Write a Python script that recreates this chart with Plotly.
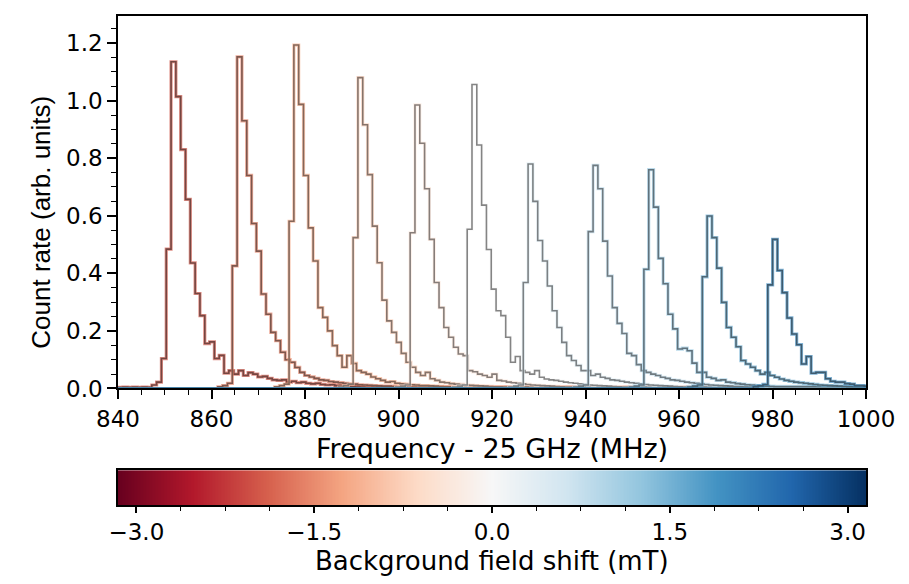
import numpy as np
import plotly.graph_objects as go
from plotly.colors import sample_colorscale, diverging

# ---------------- data ----------------
BIN_WIDTH = 1.03  # MHz
X_RANGE = [840, 1000]
Y_RANGE = [0, 1.294]
CB_RANGE = [-3.155, 3.155]

field_shift = [-2.0, -1.6, -1.2, -0.8, -0.4, 0.0, 0.4, 0.8, 1.2, 1.6, 2.0]  # mT
start_freq = [840.02, 861.36, 873.5, 887.2, 899.4, 911.6, 923.6, 937.5, 949.4, 961.9, 975.9]

counts_1 = [0.004, 0.005, 0.004, 0.005, 0.004, 0.005,
            0.004, 0.012, 0.022, 0.104, 0.484, 1.135, 1.014, 0.830, 0.657, 0.436, 0.330, 0.253,
            0.156, 0.162, 0.104, 0.115, 0.053, 0.062, 0.050, 0.062, 0.045, 0.055, 0.050, 0.040,
            0.042, 0.035, 0.030, 0.028, 0.030, 0.022, 0.025, 0.020, 0.022, 0.018, 0.016, 0.018,
            0.014, 0.012, 0.013, 0.010, 0.011, 0.009, 0.008, 0.008, 0.007, 0.006, 0.006, 0.005]
counts_2 = [0.006, 0.010, 0.018, 0.426, 1.152, 0.930, 0.740, 0.573, 0.477, 0.328, 0.258, 0.195,
            0.166, 0.126, 0.100, 0.091, 0.073, 0.056, 0.045, 0.040, 0.035, 0.030, 0.028, 0.024,
            0.022, 0.020, 0.018, 0.016, 0.015, 0.013, 0.012, 0.011, 0.010, 0.009, 0.008, 0.008,
            0.007, 0.006, 0.006, 0.005]
counts_3 = [0.006, 0.010, 0.015, 0.581, 1.193, 0.987, 0.740, 0.558, 0.443, 0.281, 0.247, 0.200,
            0.149, 0.114, 0.074, 0.114, 0.087, 0.062, 0.056, 0.050, 0.040, 0.034, 0.028, 0.022,
            0.024, 0.018, 0.016, 0.015, 0.013, 0.012, 0.010, 0.010, 0.009, 0.008, 0.007, 0.006,
            0.006, 0.005]
counts_4 = [0.005, 0.010, 0.015, 0.524, 1.080, 0.916, 0.743, 0.564, 0.437, 0.307, 0.235, 0.195,
            0.160, 0.122, 0.091, 0.074, 0.056, 0.045, 0.056, 0.034, 0.028, 0.022, 0.020, 0.017,
            0.015, 0.014, 0.012, 0.011, 0.010, 0.009, 0.008, 0.007, 0.006, 0.006, 0.005]
counts_5 = [0.005, 0.008, 0.012, 0.541, 0.985, 0.852, 0.694, 0.518, 0.368, 0.281, 0.212, 0.178,
            0.143, 0.120, 0.114, 0.062, 0.058, 0.050, 0.045, 0.039, 0.050, 0.028, 0.026, 0.022,
            0.020, 0.018, 0.016, 0.014, 0.012, 0.011, 0.010, 0.009, 0.008, 0.007, 0.006, 0.005]
counts_6 = [0.005, 0.008, 0.012, 0.553, 1.056, 0.846, 0.637, 0.483, 0.345, 0.270, 0.253, 0.178,
            0.091, 0.111, 0.062, 0.056, 0.050, 0.062, 0.039, 0.033, 0.030, 0.028, 0.025, 0.022,
            0.020, 0.018, 0.016, 0.014, 0.012, 0.011, 0.010, 0.009, 0.008, 0.007, 0.006, 0.005]
counts_7 = [0.005, 0.008, 0.012, 0.368, 0.780, 0.650, 0.514, 0.443, 0.356, 0.270, 0.212, 0.160,
            0.114, 0.097, 0.080, 0.062, 0.062, 0.045, 0.050, 0.039, 0.035, 0.030, 0.028, 0.025,
            0.022, 0.020, 0.018, 0.016, 0.014, 0.012, 0.011, 0.010, 0.009, 0.008, 0.007, 0.006,
            0.005]
counts_8 = [0.005, 0.008, 0.012, 0.545, 0.775, 0.694, 0.512, 0.391, 0.281, 0.226, 0.191, 0.122,
            0.114, 0.083, 0.062, 0.056, 0.050, 0.045, 0.039, 0.035, 0.030, 0.028, 0.025, 0.022,
            0.020, 0.018, 0.016, 0.014, 0.012, 0.011, 0.010, 0.009, 0.008, 0.007]
counts_9 = [0.005, 0.008, 0.012, 0.414, 0.760, 0.630, 0.452, 0.364, 0.258, 0.207, 0.137, 0.140,
            0.131, 0.088, 0.056, 0.056, 0.039, 0.035, 0.028, 0.030, 0.022, 0.020, 0.017, 0.015,
            0.013, 0.012, 0.010, 0.009, 0.008, 0.007, 0.006]
counts_10 = [0.005, 0.008, 0.012, 0.388, 0.599, 0.524, 0.418, 0.299, 0.212, 0.178, 0.145, 0.097,
             0.085, 0.074, 0.062, 0.050, 0.056, 0.045, 0.039, 0.033, 0.028, 0.025, 0.022, 0.020,
             0.018, 0.016, 0.014, 0.012, 0.011, 0.010, 0.009, 0.008, 0.007, 0.006, 0.006]
counts_11 = [0.006, 0.009, 0.014, 0.360, 0.518, 0.410, 0.333, 0.245, 0.189, 0.152, 0.085, 0.111,
             0.053, 0.056, 0.056, 0.034, 0.025, 0.022, 0.022, 0.017, 0.015, 0.010, 0.010, 0.008]

all_counts = [counts_1, counts_2, counts_3, counts_4, counts_5, counts_6,
              counts_7, counts_8, counts_9, counts_10, counts_11]

x_ticks = [840, 860, 880, 900, 920, 940, 960, 980, 1000]
y_ticks = [0.0, 0.2, 0.4, 0.6, 0.8, 1.0, 1.2]
cb_ticks = [-3.0, -1.5, 0.0, 1.5, 3.0]

# ---------------- helpers ----------------
RDBU = diverging.RdBu  # ColorBrewer RdBu (red -> blue)
cscale = [[i / (len(RDBU) - 1), c] for i, c in enumerate(RDBU)]


def parse_rgb(s):
    vals = s[s.index("(") + 1:s.index(")")].split(",")
    return [float(v) for v in vals[:3]]


def mix(rgb, other, t):
    return [rgb[i] * (1 - t) + other[i] * t for i in range(3)]


def rgb_str(rgb, a=1.0):
    return "rgba(%d,%d,%d,%.3f)" % (round(rgb[0]), round(rgb[1]), round(rgb[2]), a)


def step_xy(f0, counts):
    edges = [f0 + i * BIN_WIDTH for i in range(len(counts) + 1)]
    xs, ys = [], []
    if edges[0] > X_RANGE[0]:
        xs += [X_RANGE[0]]; ys += [0.0]
    xs += edges
    ys += counts + [counts[-1]]
    if edges[-1] < X_RANGE[1]:
        xs.append(X_RANGE[1]); ys.append(counts[-1])
    return xs, ys


fig = go.Figure()

for f_shift, f0, counts in zip(field_shift, start_freq, all_counts):
    norm = (f_shift - CB_RANGE[0]) / (CB_RANGE[1] - CB_RANGE[0])
    base = parse_rgb(sample_colorscale(cscale, [norm])[0])
    xs, ys = step_xy(f0, counts)
    fig.add_trace(go.Scatter(x=xs, y=ys, mode="lines", line_shape="hv",
                             line=dict(color=rgb_str(base, 0.65), width=3.2),
                             hoverinfo="skip", xaxis="x", yaxis="y"))
    core = mix(base, [62, 62, 62], 0.62)
    fig.add_trace(go.Scatter(x=xs, y=ys, mode="lines", line_shape="hv",
                             line=dict(color=rgb_str(core, 1.0), width=1.6),
                             hoverinfo="skip", xaxis="x", yaxis="y"))

# colour bar drawn as a heatmap strip
cb_x = np.linspace(CB_RANGE[0], CB_RANGE[1], 500)
fig.add_trace(go.Heatmap(x=cb_x, y=[0], z=[cb_x], colorscale=cscale,
                         zmin=CB_RANGE[0], zmax=CB_RANGE[1], showscale=False,
                         hoverinfo="skip", xaxis="x2", yaxis="y2"))

TICK_FONT = dict(family="DejaVu Sans", size=23, color="black")
axis_common = dict(showline=True, linecolor="black", linewidth=1.5, mirror=True,
                   ticks="outside", tickwidth=1.5, tickcolor="black",
                   showgrid=False, zeroline=False, tickfont=TICK_FONT)

# page has an 8px body margin; compensate so the figure lands where the reference is
OFF = 8
W, H = 909 - OFF, 584 - OFF
PLOT_TOP, PLOT_BOTTOM, CB_TOP, CB_BOTTOM = 14 - OFF, 388 - OFF, 470 - OFF, 505 - OFF
ml, mr = 118 - OFF, 43
mt, mb = PLOT_TOP, H - CB_BOTTOM
inner = H - mt - mb


def ypaper(py):
    return (H - mb - py) / inner


def xpaper(px):
    return (px - ml) / (W - ml - mr)


fig.update_layout(
    width=W, height=H,
    margin=dict(l=ml, r=mr, t=mt, b=mb, pad=0),
    plot_bgcolor="white", paper_bgcolor="white", showlegend=False,
    xaxis=dict(domain=[0, 1], anchor="y", range=X_RANGE, tickmode="array",
               tickvals=x_ticks, ticktext=[str(v) for v in x_ticks], ticklen=9,
               minor=dict(dtick=5, tick0=840, ticklen=5, tickwidth=1.2,
                          ticks="outside", tickcolor="black"),
               **axis_common),
    yaxis=dict(domain=[ypaper(PLOT_BOTTOM), 1], anchor="x", range=Y_RANGE,
               tickmode="array", tickvals=y_ticks, ticklen=9,
               ticktext=["%.1f" % v for v in y_ticks],
               minor=dict(dtick=0.05, tick0=0, ticklen=5, tickwidth=1.2,
                          ticks="outside", tickcolor="black"),
               **axis_common),
    xaxis2=dict(domain=[0, 1], anchor="y2", range=CB_RANGE, tickmode="linear",
                tick0=-3.0, dtick=1.5, tickformat=".1f", ticklen=6,
                minor=dict(dtick=0.375, tick0=-3.0, ticklen=4, tickwidth=1.2,
                           ticks="outside", tickcolor="black"),
                **axis_common),
    yaxis2=dict(domain=[0, ypaper(CB_TOP)], anchor="x2", range=[-0.5, 0.5],
                showline=True, linecolor="black", linewidth=1.5, mirror=True,
                ticks="", showticklabels=False, showgrid=False, zeroline=False),
    annotations=[
        dict(text="Frequency - 25 GHz (MHz)", xref="paper", yref="paper",
             x=0.5, y=ypaper(448 - OFF), xanchor="center", yanchor="middle",
             showarrow=False, font=dict(family="DejaVu Sans", size=27, color="black")),
        dict(text="Background field shift (mT)", xref="paper", yref="paper",
             x=0.5, y=ypaper(561 - OFF), xanchor="center", yanchor="middle",
             showarrow=False, font=dict(family="DejaVu Sans", size=26, color="black")),
        dict(text="Count rate (arb. units)", xref="paper", yref="paper",
             x=xpaper(41.5 - OFF), y=ypaper(221 - OFF), xanchor="center", yanchor="middle",
             textangle=-90, showarrow=False,
             font=dict(family="Liberation Sans", size=26, color="black")),
    ],
)

fig.write_html("out.html")
